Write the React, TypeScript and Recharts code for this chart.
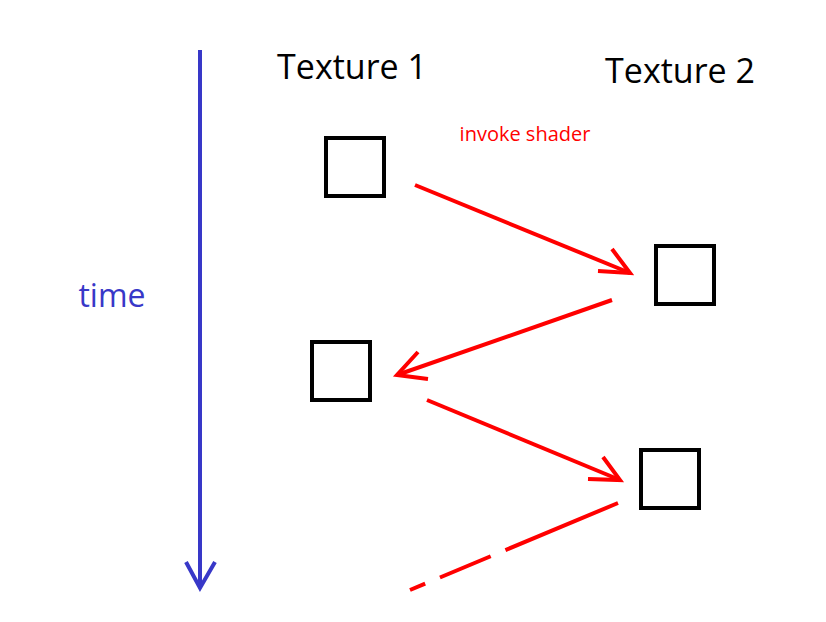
import React from "react";
import { ComposedChart, XAxis, YAxis, Line, Scatter } from "recharts";

const W = 826, H = 622;
const timeAxis = [{ x: 200, y: 50 }, { x: 200, y: 588 }];
const timeHead = [{ x: 186, y: 562 }, { x: 200, y: 588 }, { x: 215, y: 562 }];
const arrow1 = [{ x: 415, y: 185 }, { x: 630, y: 273 }];
const head1 = [{ x: 598, y: 271 }, { x: 630, y: 273 }, { x: 612, y: 249 }];
const arrow2 = [{ x: 612, y: 300 }, { x: 397, y: 375 }];
const head2 = [{ x: 418, y: 352 }, { x: 397, y: 375 }, { x: 428, y: 379 }];
const arrow3 = [{ x: 427, y: 400 }, { x: 620, y: 480 }];
const head3 = [{ x: 588, y: 479 }, { x: 620, y: 480 }, { x: 603, y: 457 }];
const arrow4 = [{ x: 618, y: 503 }, { x: 410, y: 590 }];
const boxes = [{ x: 355, y: 167 }, { x: 685, y: 275 }, { x: 341, y: 371 }, { x: 670, y: 479 }];
const labels = [
  { x: 352, y: 66, t: "Texture 1", c: "#000", s: 34 },
  { x: 680, y: 70, t: "Texture 2", c: "#000", s: 34 },
  { x: 525, y: 133, t: "invoke shader", c: "#ff0000", s: 20 },
  { x: 112, y: 294, t: "time", c: "#3838c8", s: 32 },
];

const BLUE = "#3838c8", RED = "#ff0000";

const Box = (p: any) => (
  <rect x={p.cx - 29} y={p.cy - 29} width={58} height={58} fill="none" stroke="#000" strokeWidth={4} />
);
const Label = (p: any) => (
  <text x={p.cx} y={p.cy} textAnchor="middle" dominantBaseline="central" fill={p.payload.c}
    fontSize={p.payload.s} fontFamily="'Open Sans', sans-serif">{p.payload.t}</text>
);

const ln = (d: any[], c: string, k: string, dash?: string) => (
  <Line key={k} data={d} dataKey="y" stroke={c} strokeWidth={k.startsWith("t") ? 4 : 4}
    dot={false} activeDot={false} isAnimationActive={false} strokeDasharray={dash} type="linear" />
);

export default function App() {
  return (
    <div style={{ margin: -8, width: W, height: H, background: "#fff" }}>
      <ComposedChart width={W} height={H} margin={{ top: 0, right: 0, bottom: 0, left: 0 }}>
        <XAxis type="number" dataKey="x" domain={[0, W]} hide allowDataOverflow />
        <YAxis type="number" dataKey="y" domain={[0, H]} reversed hide allowDataOverflow />
        {ln(timeAxis, BLUE, "t1")}
        {ln(timeHead, BLUE, "t2")}
        {ln(arrow1, RED, "a1")}
        {ln(head1, RED, "h1")}
        {ln(arrow2, RED, "a2")}
        {ln(head2, RED, "h2")}
        {ln(arrow3, RED, "a3")}
        {ln(head3, RED, "h3")}
        {ln(arrow4, RED, "a4", "122 16 55 16 30")}
        <Scatter data={boxes} dataKey="y" shape={Box} isAnimationActive={false} />
        <Scatter data={labels} dataKey="y" shape={Label} isAnimationActive={false} />
      </ComposedChart>
    </div>
  );
}
